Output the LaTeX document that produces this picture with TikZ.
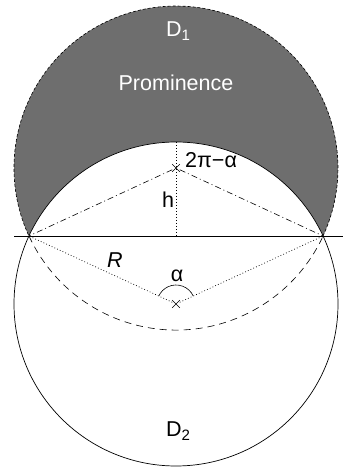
\documentclass[tikz,border=0pt]{standalone}
\usepackage{fontspec}
\setmainfont{Liberation Sans}
\usetikzlibrary{shapes.misc}

\begin{document}
\begin{tikzpicture}[x=1pt,y=1pt,
    lbl/.style={font=\fontsize{21.5}{25}\selectfont, inner sep=0pt},
    ctr/.style={cross out, draw, minimum size=7pt, inner sep=0pt, line width=0.6pt},
    dotline/.style={line width=0.7pt, dash pattern=on 0.8pt off 2.2pt},
    dashdotline/.style={line width=0.6pt, dash pattern=on 6pt off 3pt on 1pt off 3pt}]
  \useasboundingbox (0,0) rectangle (343,472);
  \coordinate (c1) at (176,304);
  \coordinate (c2) at (176,168);
  \coordinate (a) at (29,236);
  \coordinate (b) at (323,236);
  \coordinate (m) at (176,236);
  \coordinate (top2) at (176,330);
  \coordinate (l) at (14,236);
  \coordinate (r) at (343,236);

  \fill[black!57] (c1) circle[radius=162];
  \fill[white] (c2) circle[radius=162];
  \draw[line width=0.7pt] (c2) circle[radius=162];
  \draw[line width=0.6pt, dash pattern=on 3pt off 2pt] (b) arc[start angle=-24.8, end angle=204.8, radius=162];
  \draw[line width=0.6pt, dash pattern=on 7pt off 5pt] (a) arc[start angle=204.8, end angle=335.2, radius=162];
  \draw[line width=0.8pt] (l) -- (r);

  \node[ctr] (x1) at (c1) {};
  \node[ctr] (x2) at (c2) {};
  \draw[dotline] (top2) -- (m);
  \draw[dotline] (x2) -- (a);
  \draw[dotline] (x2) -- (b);
  \draw[dashdotline] (x1) -- (a);
  \draw[dashdotline] (x1) -- (b);
  \draw[line width=0.6pt] ([shift={(24.8:19)}]c2) arc[start angle=24.8, end angle=155.2, radius=19];

  \node[lbl, white, anchor=base west] (d1) at (166,435) {D\textsubscript{1}};
  \node[lbl, white, anchor=base] (prom) at (176,381) {Prominence};
  \node[lbl, anchor=base west] (d2) at (166,35) {D\textsubscript{2}};
  \node[lbl, anchor=base west] (ang1) at (185,304) {2π−α};
  \node[lbl, anchor=base] (h) at (168,264) {h};
  \node[lbl, anchor=base] (rad) at (115,204) {\textit{R}};
  \node[lbl, anchor=base] (ang2) at (177,190) {α};
\end{tikzpicture}
\end{document}
